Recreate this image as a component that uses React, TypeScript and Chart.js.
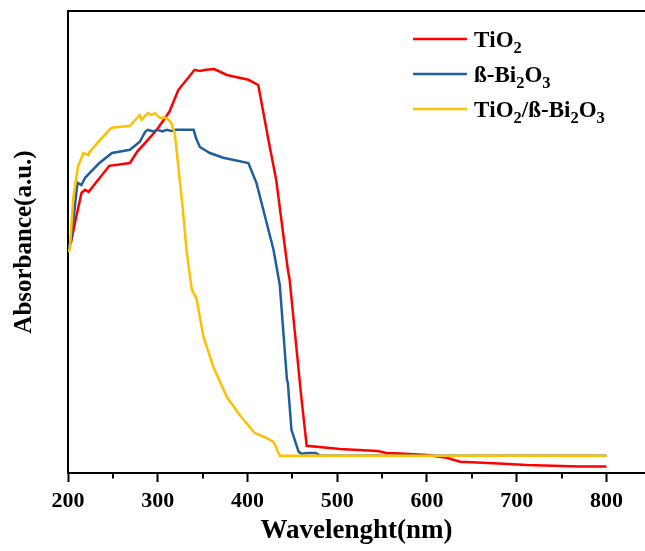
import React, { useEffect, useRef } from "react";
import { Chart, registerables } from "chart.js";

Chart.register(...registerables);

const FONT = "'Liberation Serif','Times New Roman',serif";

// Tick values on the wavelength axis
const X_MAJOR = [200, 300, 400, 500, 600, 700, 800];
const X_MINOR = [250, 350, 450, 550, 650, 750];

// TiO2
const TIO2_NM = [200, 204, 208, 215, 219, 223, 246, 269, 277, 287, 299, 313, 323, 334, 341, 347, 354, 363, 377, 401, 412, 424, 432, 445, 447, 460, 466, 503, 545, 555, 570, 600, 622, 637, 680, 711, 770, 800];
const TIO2_ABS = [0.553, 0.583, 0.628, 0.700, 0.708, 0.703, 0.768, 0.775, 0.803, 0.828, 0.858, 0.903, 0.958, 0.988, 1.008, 1.005, 1.008, 1.010, 0.995, 0.983, 0.970, 0.825, 0.733, 0.508, 0.483, 0.190, 0.068, 0.060, 0.055, 0.050, 0.049, 0.045, 0.038, 0.028, 0.024, 0.020, 0.016, 0.016];

// beta-Bi2O3
const BI2O3_NM = [200, 204, 210, 211, 215, 219, 235, 249, 269, 280, 286, 289, 295, 300, 305, 310, 315, 320, 340, 343, 347, 358, 373, 401, 410, 429, 436, 444, 445, 449, 457, 460, 467, 476, 481, 800];
const BI2O3_ABS = [0.553, 0.590, 0.715, 0.725, 0.720, 0.738, 0.775, 0.800, 0.808, 0.828, 0.853, 0.858, 0.854, 0.858, 0.854, 0.858, 0.855, 0.858, 0.858, 0.835, 0.815, 0.800, 0.788, 0.775, 0.725, 0.558, 0.470, 0.233, 0.225, 0.108, 0.053, 0.048, 0.050, 0.050, 0.043, 0.043];

// TiO2/beta-Bi2O3
const COMP_NM = [200, 202, 206, 211, 217, 223, 224, 246, 249, 269, 280, 282, 289, 293, 297, 302, 310, 315, 319, 323, 328, 332, 338, 343, 351, 362, 377, 392, 408, 421, 429, 436, 800];
const COMP_ABS = [0.553, 0.558, 0.690, 0.765, 0.800, 0.795, 0.803, 0.858, 0.863, 0.868, 0.895, 0.883, 0.900, 0.895, 0.900, 0.888, 0.888, 0.875, 0.850, 0.765, 0.658, 0.558, 0.458, 0.438, 0.340, 0.265, 0.190, 0.143, 0.100, 0.088, 0.078, 0.043, 0.043];

const LABELS = ["TiO₂", "ß-Bi₂O₃", "TiO₂/ß-Bi₂O₃"];
const COLORS = ["#ff0000", "#1f5fa0", "#ffc000"];

const toXY = (xs: number[], ys: number[]) => xs.map((x, i) => ({ x, y: ys[i] }));

const SUBS: Record<string, string> = { "₀": "0", "₁": "1", "₂": "2", "₃": "3", "₄": "4" };

const legendPlugin = {
  id: "insideLegend",
  afterDraw(chart: any) {
    const ctx = chart.ctx as CanvasRenderingContext2D;
    const base = 23;
    const sub = 16.5;
    const x0 = 413, x1 = 467, tx = 474, y0 = 39, dy = 35;
    ctx.save();
    chart.data.datasets.forEach((ds: any, i: number) => {
      const y = y0 + i * dy;
      ctx.strokeStyle = ds.borderColor;
      ctx.lineWidth = 2.5;
      ctx.beginPath();
      ctx.moveTo(x0, y);
      ctx.lineTo(x1, y);
      ctx.stroke();
      ctx.fillStyle = "#000";
      ctx.textBaseline = "alphabetic";
      ctx.textAlign = "left";
      let x = tx;
      const baseline = y + 8;
      for (const ch of String(ds.label)) {
        if (SUBS[ch]) {
          ctx.font = `bold ${sub}px ${FONT}`;
          ctx.fillText(SUBS[ch], x, baseline + 6);
          x += ctx.measureText(SUBS[ch]).width;
        } else {
          ctx.font = `bold ${base}px ${FONT}`;
          ctx.fillText(ch, x, baseline);
          x += ctx.measureText(ch).width;
        }
      }
    });
    ctx.restore();
  },
};

const minorTickPlugin = {
  id: "minorTicks",
  afterDraw(chart: any) {
    const sc = chart.scales.x;
    const ctx = chart.ctx as CanvasRenderingContext2D;
    ctx.save();
    ctx.strokeStyle = "#000";
    ctx.lineWidth = 2;
    X_MINOR.forEach((v) => {
      const px = Math.round(sc.getPixelForValue(v));
      ctx.beginPath();
      ctx.moveTo(px, sc.top);
      ctx.lineTo(px, sc.top + 5.5);
      ctx.stroke();
    });
    ctx.restore();
  },
};

export default function App() {
  const ref = useRef<HTMLCanvasElement>(null);
  useEffect(() => {
    if (!ref.current) return;
    const series = [
      { nm: TIO2_NM, abs: TIO2_ABS, order: 2 },
      { nm: BI2O3_NM, abs: BI2O3_ABS, order: 1 },
      { nm: COMP_NM, abs: COMP_ABS, order: 0 },
    ];
    const chart = new Chart(ref.current, {
      type: "line",
      data: {
        datasets: series.map((s, i) => ({
          label: LABELS[i],
          data: toXY(s.nm, s.abs),
          borderColor: COLORS[i],
          backgroundColor: COLORS[i],
          borderWidth: 2.5,
          pointRadius: 0,
          tension: 0,
          fill: false,
          order: s.order,
        })),
      },
      options: {
        responsive: false,
        animation: false,
        devicePixelRatio: 1,
        layout: { padding: { top: 11, left: 0, right: 0, bottom: 0 } },
        plugins: { legend: { display: false }, tooltip: { enabled: false } },
        scales: {
          x: {
            type: "linear",
            position: "bottom",
            min: 200,
            max: 843,
            afterBuildTicks: (s: any) => {
              s.ticks = X_MAJOR.map((v) => ({ value: v }));
            },
            afterFit: (s: any) => {
              s.height = 78;
            },
            ticks: {
              color: "#000",
              padding: 6,
              maxRotation: 0,
              autoSkip: false,
              font: { family: FONT, size: 22, weight: "bold" },
              callback: (v: any) => String(v),
            },
            grid: {
              display: true,
              drawOnChartArea: false,
              drawTicks: true,
              tickLength: 9,
              tickWidth: 2,
              tickColor: "#000",
            },
            border: { display: true, color: "#000", width: 2 },
            title: {
              display: true,
              text: "Wavelenght(nm)",
              color: "#000",
              font: { family: FONT, size: 27, weight: "bold" },
              padding: { top: 0, bottom: 4 },
            },
          },
          xTop: {
            type: "linear",
            position: "top",
            min: 200,
            max: 843,
            ticks: { display: false },
            grid: { display: false, drawTicks: false },
            border: { display: true, color: "#000", width: 2 },
            afterFit: (s: any) => {
              s.height = 0;
            },
          },
          y: {
            type: "linear",
            min: 0,
            max: 1.155,
            ticks: { display: false },
            grid: { display: false, drawTicks: false },
            border: { display: true, color: "#000", width: 2 },
            afterFit: (s: any) => {
              s.width = 68;
            },
            title: {
              display: true,
              text: "Absorbance(a.u.)",
              color: "#000",
              font: { family: FONT, size: 25, weight: "bold" },
              padding: { top: 10, bottom: 0 },
            },
          },
        },
      },
      plugins: [legendPlugin, minorTickPlugin],
    } as any);
    return () => chart.destroy();
  }, []);

  return (
    <div style={{ position: "absolute", left: 0, top: 0, width: 645, height: 551, overflow: "hidden", background: "#fff" }}>
      <canvas ref={ref} width={645} height={551} style={{ display: "block" }} />
    </div>
  );
}
